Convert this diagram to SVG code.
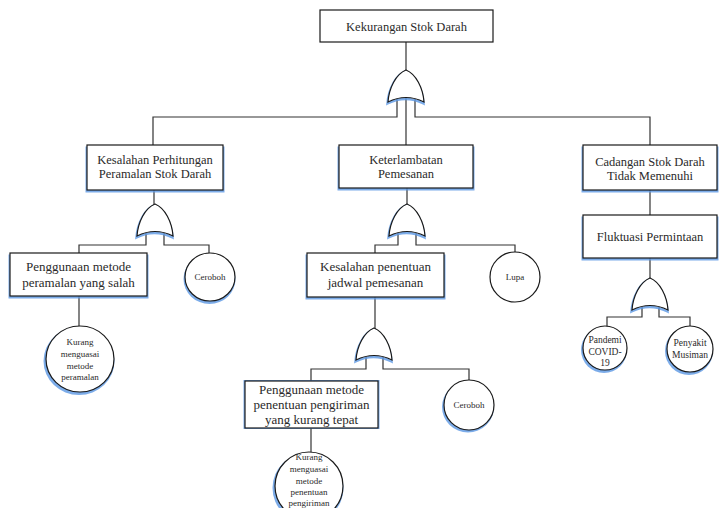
<svg xmlns="http://www.w3.org/2000/svg" xmlns:xlink="http://www.w3.org/1999/xlink" width="720" height="508" viewBox="0 0 720 508" font-family="'Liberation Serif', 'Times New Roman', 'DejaVu Serif', serif">
<style>
.box{fill:#fff;stroke:#1a1a1a;stroke-width:1.2}
.sh{fill:#5b97e3;stroke:none;opacity:0.8}
.gate{fill:#fff;stroke:#1a1a1a;stroke-width:1.2}
.gsh{fill:none;stroke:#5b97e3;stroke-width:2.5;opacity:0.8}
.ev{fill:#fff;stroke:#1a1a1a;stroke-width:1.2}
.con{fill:none;stroke:#333;stroke-width:1.2}
text{font-family:'Liberation Serif','Times New Roman','DejaVu Serif',serif;fill:#2a2a2a;text-anchor:middle}
.t{font-size:12.5px}
.s{font-size:9px}
</style>
<defs>
<path id="g" d="M0,0 C10,4 17,18 18,32 Q0,23 -18,32 C-17,18 -10,4 0,0 Z"/>
</defs>
<rect width="720" height="508" fill="#fff"/>
<g id="connectors" class="con">
<path d="M406,42 V76"/>
<path d="M406,92 V145"/>
<path d="M397,92 V117 H153 V145"/>
<path d="M415,92 V117 H650 V145"/>
<path d="M154,190 V210"/>
<path d="M146,226 V245 H79 V253"/>
<path d="M164,226 V245 H209 V253"/>
<path d="M79,296 V326"/>
<path d="M407,188 V210"/>
<path d="M398,226 V245 H375 V253"/>
<path d="M416,226 V245 H515 V252"/>
<path d="M375,297 V334"/>
<path d="M366,350 V369 H311 V381"/>
<path d="M383,350 V369 H469 V380"/>
<path d="M311,428 V452"/>
<path d="M650,190 V215"/>
<path d="M650,258 V284"/>
<path d="M642,300 V317 H607 V327"/>
<path d="M659,300 V317 H690 V326"/>
</g>
<g id="top">
<rect class="box" x="320" y="10" width="173" height="32"/>
<text class="t" x="406.5" y="30.5">Kekurangan Stok Darah</text>
</g>
<g id="gate-top">
<use href="#g" class="gsh" transform="translate(405.5,71.5)"/>
<use href="#g" class="gate" transform="translate(406,70)"/>
</g>
<g id="node-a">
<rect class="sh" x="85.5" y="146.5" width="139" height="46"/>
<rect class="box" x="87" y="145" width="136" height="45"/>
<text class="t" x="155" y="164">Kesalahan Perhitungan</text>
<text class="t" x="155" y="178">Peramalan Stok Darah</text>
</g>
<g id="node-b">
<rect class="sh" x="337.5" y="146.5" width="137" height="44"/>
<rect class="box" x="339" y="145" width="134" height="43"/>
<text class="t" x="406" y="164">Keterlambatan</text>
<text class="t" x="406" y="178">Pemesanan</text>
</g>
<g id="node-c">
<rect class="sh" x="581.5" y="146.5" width="137" height="46"/>
<rect class="box" x="583" y="145" width="134" height="45"/>
<text class="t" x="650" y="166">Cadangan Stok Darah</text>
<text class="t" x="650" y="180">Tidak Memenuhi</text>
</g>
<g id="node-fluktuasi">
<rect class="sh" x="581.5" y="216.5" width="137" height="44"/>
<rect class="box" x="583" y="215" width="134" height="43"/>
<text class="t" x="650" y="241">Fluktuasi Permintaan</text>
</g>
<g id="gate-a">
<use href="#g" class="gsh" transform="translate(154.5,205.5)"/>
<use href="#g" class="gate" transform="translate(155,204)"/>
</g>
<g id="gate-b">
<use href="#g" class="gsh" transform="translate(406.5,205.5)"/>
<use href="#g" class="gate" transform="translate(407,204)"/>
</g>
<g id="gate-c">
<use href="#g" class="gsh" transform="translate(373.5,329.5)"/>
<use href="#g" class="gate" transform="translate(374,328)"/>
</g>
<g id="gate-d">
<use href="#g" class="gsh" transform="translate(649.5,279.5)"/>
<use href="#g" class="gate" transform="translate(650,278)"/>
</g>
<g id="node-penggunaan-peramalan">
<rect class="sh" x="8.5" y="254.5" width="140" height="44"/>
<rect class="box" x="10" y="253" width="137" height="43"/>
<text class="t" x="78.5" y="271" style="font-size:13px">Penggunaan metode</text>
<text class="t" x="78.5" y="287" style="font-size:13px">peramalan yang salah</text>
</g>
<g id="node-ceroboh-1">
<ellipse class="sh" cx="209.5" cy="279" rx="26" ry="25"/>
<ellipse class="ev" cx="210" cy="277" rx="25" ry="24"/>
<text class="s" x="210" y="280">Ceroboh</text>
</g>
<g id="node-kurang-peramalan">
<ellipse class="sh" cx="79" cy="361" rx="35.5" ry="34"/>
<ellipse class="ev" cx="80" cy="359" rx="34" ry="33"/>
<text class="s" x="80" y="345">Kurang</text>
<text class="s" x="80" y="357">menguasai</text>
<text class="s" x="80" y="369">metode</text>
<text class="s" x="80" y="380">peramalan</text>
</g>
<g id="node-kesalahan-jadwal">
<rect class="sh" x="305.5" y="254.5" width="140" height="45"/>
<rect class="box" x="307" y="253" width="137" height="44"/>
<text class="t" x="375.5" y="271" style="font-size:13px">Kesalahan penentuan</text>
<text class="t" x="375.5" y="287" style="font-size:13px">jadwal pemesanan</text>
</g>
<g id="node-lupa">
<ellipse class="ev" cx="515" cy="277" rx="25" ry="25"/>
<text class="s" x="515" y="280">Lupa</text>
</g>
<g id="node-penggunaan-pengiriman">
<rect class="sh" x="243.5" y="380" width="136" height="49"/>
<rect class="box" x="245" y="381" width="133" height="47"/>
<text class="t" x="311.5" y="394" style="font-size:13px">Penggunaan metode</text>
<text class="t" x="311.5" y="409" style="font-size:13px">penentuan pengiriman</text>
<text class="t" x="311.5" y="424" style="font-size:13px">yang kurang tepat</text>
</g>
<g id="node-ceroboh-2">
<ellipse class="sh" cx="468" cy="407" rx="26" ry="25.5"/>
<ellipse class="ev" cx="469" cy="405" rx="25" ry="25"/>
<text class="s" x="469" y="408">Ceroboh</text>
</g>
<g id="node-kurang-pengiriman">
<ellipse class="sh" cx="308" cy="488" rx="35.5" ry="35"/>
<ellipse class="ev" cx="309" cy="486" rx="34" ry="34"/>
<text class="s" x="309" y="460">Kurang</text>
<text class="s" x="309" y="472">menguasai</text>
<text class="s" x="309" y="484">metode</text>
<text class="s" x="309" y="495">penentuan</text>
<text class="s" x="309" y="506">pengiriman</text>
</g>
<g id="node-pandemi">
<ellipse class="sh" cx="604" cy="350" rx="23" ry="23"/>
<ellipse class="ev" cx="605" cy="348" rx="22" ry="22"/>
<text class="s" x="605" y="343" style="font-size:9.5px">Pandemi</text>
<text class="s" x="605" y="355" style="font-size:9.5px">COVID-</text>
<text class="s" x="605" y="366" style="font-size:9.5px">19</text>
</g>
<g id="node-penyakit">
<ellipse class="sh" cx="689" cy="351" rx="24" ry="24"/>
<ellipse class="ev" cx="690" cy="349" rx="23" ry="23"/>
<text class="s" x="690" y="346" style="font-size:9.5px">Penyakit</text>
<text class="s" x="690" y="358" style="font-size:9.5px">Musiman</text>
</g>
</svg>
